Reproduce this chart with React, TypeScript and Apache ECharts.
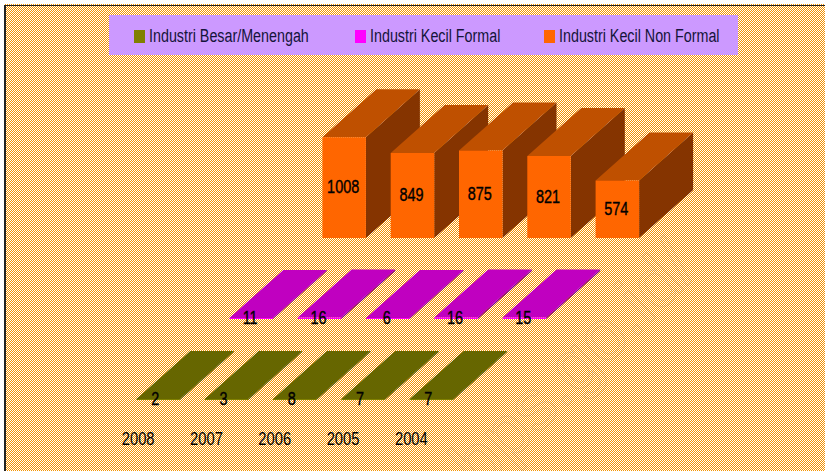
import React, { useEffect, useRef } from "react";
import * as echarts from "echarts";

const years = ["2008", "2007", "2006", "2005", "2004"];
const besarMenengah = [2, 3, 8, 7, 7];
const kecilFormal = [11, 16, 6, 16, 15];
const kecilNonFormal = [1008, 849, 875, 821, 574];

const seriesNames = ["Industri Besar/Menengah", "Industri Kecil Formal", "Industri Kecil Non Formal"];
const FONT = '"Liberation Sans", Arial, sans-serif';

type Look = { front: string; top: string; side: string; dx: number; dy: number; labelShift: number };
const looks: Look[] = [
  { front: "#808000", top: "#666600", side: "#555500", dx: 20, dy: -19, labelShift: -3 },
  { front: "#FF00FF", top: "#C000C0", side: "#800080", dx: 113, dy: -100, labelShift: -1 },
  { front: "#FF6600", top: "#BF5000", side: "#853400", dx: 206, dy: -181, labelShift: -1 },
];
const legendSquareX = [134, 355, 544];
const BAR_W = 43.5;
const DEPTH_X = 54;
const DEPTH_Y = 48;

function makeSeries(i: number, values: number[]) {
  const look = looks[i];
  return {
    type: "custom",
    name: seriesNames[i],
    data: values.map((v, k) => [k, v]),
    itemStyle: { color: look.front },
    clip: false,
    renderItem: (_p: any, api: any) => {
      const base = api.coord([api.value(0), 0]);
      const tip = api.coord([api.value(0), api.value(1)]);
      const x0 = base[0] + look.dx - BAR_W / 2;
      const x1 = x0 + BAR_W;
      const yb = base[1] + look.dy;
      const yt = Math.min(tip[1] + look.dy, yb - 1);
      const poly = (points: number[][], fill: string) => ({
        type: "polygon",
        shape: { points },
        style: { fill },
      });
      return {
        type: "group",
        children: [
          poly([[x1, yb], [x1 + DEPTH_X, yb - DEPTH_Y], [x1 + DEPTH_X, yt - DEPTH_Y], [x1, yt]], look.side),
          poly([[x0, yt], [x1, yt], [x1 + DEPTH_X, yt - DEPTH_Y], [x0 + DEPTH_X, yt - DEPTH_Y]], look.top),
          poly([[x0, yb], [x1, yb], [x1, yt], [x0, yt]], look.front),
          {
            type: "text",
            x: x0 + BAR_W / 2 + look.labelShift,
            y: (yb + yt) / 2 - 0.5,
            scaleX: 0.76,
            style: {
              text: String(api.value(1)),
              fill: "#000000",
              stroke: "#000000",
              lineWidth: 0.4,
              font: `19px ${FONT}`,
              align: "center",
              verticalAlign: "middle",
            },
          },
        ],
      };
    },
  };
}

const yearSeries = {
  type: "custom",
  name: "Tahun",
  data: years.map((_y, k) => [k, 0]),
  clip: false,
  renderItem: (_p: any, api: any) => {
    const k = api.value(0);
    const pt = api.coord([k, 0]);
    return {
      type: "text",
      x: pt[0],
      y: pt[1] + 19.5,
      scaleX: 0.82,
      style: {
        text: years[k],
        fill: "#000000",
        font: `18px ${FONT}`,
        align: "center",
        verticalAlign: "middle",
      },
    };
  },
};

export default function App() {
  const ref = useRef<HTMLDivElement>(null);
  useEffect(() => {
    document.body.style.margin = "0";
    document.body.style.overflow = "hidden";
    const chart = echarts.init(ref.current!, undefined, { renderer: "svg" });
    const legendItems = seriesNames.flatMap((name, i) => [
      {
        type: "rect",
        shape: { x: legendSquareX[i], y: 30, width: 11, height: 13 },
        style: { fill: looks[i].front },
      },
      {
        type: "text",
        x: legendSquareX[i] + 15,
        y: 35,
        scaleX: 0.795,
        style: {
          text: name,
          font: `18px ${FONT}`,
          fill: "#14143a",
          align: "left",
          verticalAlign: "middle",
        },
      },
    ]);
    chart.setOption({
      animation: false,
      textStyle: { fontFamily: FONT },
      grid: { left: 104, width: 341.5, top: 89, height: 330 },
      xAxis: {
        type: "category",
        data: years,
        axisLine: { show: false },
        axisTick: { show: false },
        axisLabel: { show: false },
      },
      yAxis: { type: "value", min: 0, max: 3300, show: false, splitLine: { show: false } },
      graphic: [
        {
          type: "text",
          x: 488,
          y: 500,
          rotation: (45 * Math.PI) / 180,
          silent: true,
          z: -1,
          style: {
            text: "bps.go.id/",
            font: '72px "Liberation Sans"',
            fill: "rgba(0,0,0,0)",
            stroke: "rgba(190,150,110,0.28)",
            lineWidth: 1,
            align: "left",
            verticalAlign: "bottom",
          },
        },
        {
          type: "rect",
          shape: { x: 109, y: 15, width: 629, height: 40 },
          style: { fill: "#CC99FF" },
        },
        ...legendItems,
      ],
      series: [
        makeSeries(0, besarMenengah),
        makeSeries(1, kecilFormal),
        makeSeries(2, kecilNonFormal),
        yearSeries,
      ],
    });
    return () => chart.dispose();
  }, []);
  const check = "repeating-conic-gradient(#F59300 0 25%, #FFFFFF 0 50%) 0 0 / 2px 2px";
  return (
    <div style={{ position: "relative", width: 825, height: 471, background: "#fff", overflow: "hidden" }}>
      <div style={{ position: "absolute", left: 4, top: 4, right: 0, bottom: 0, background: check }} />
      <div style={{ position: "absolute", left: 4, top: 5, right: 0, height: 1, background: "#222" }} />
      <div style={{ position: "absolute", left: 4, top: 5, width: 2, bottom: 0, background: "#222" }} />
      <div ref={ref} style={{ position: "absolute", left: 0, top: 0, width: 825, height: 471 }} />
    </div>
  );
}
